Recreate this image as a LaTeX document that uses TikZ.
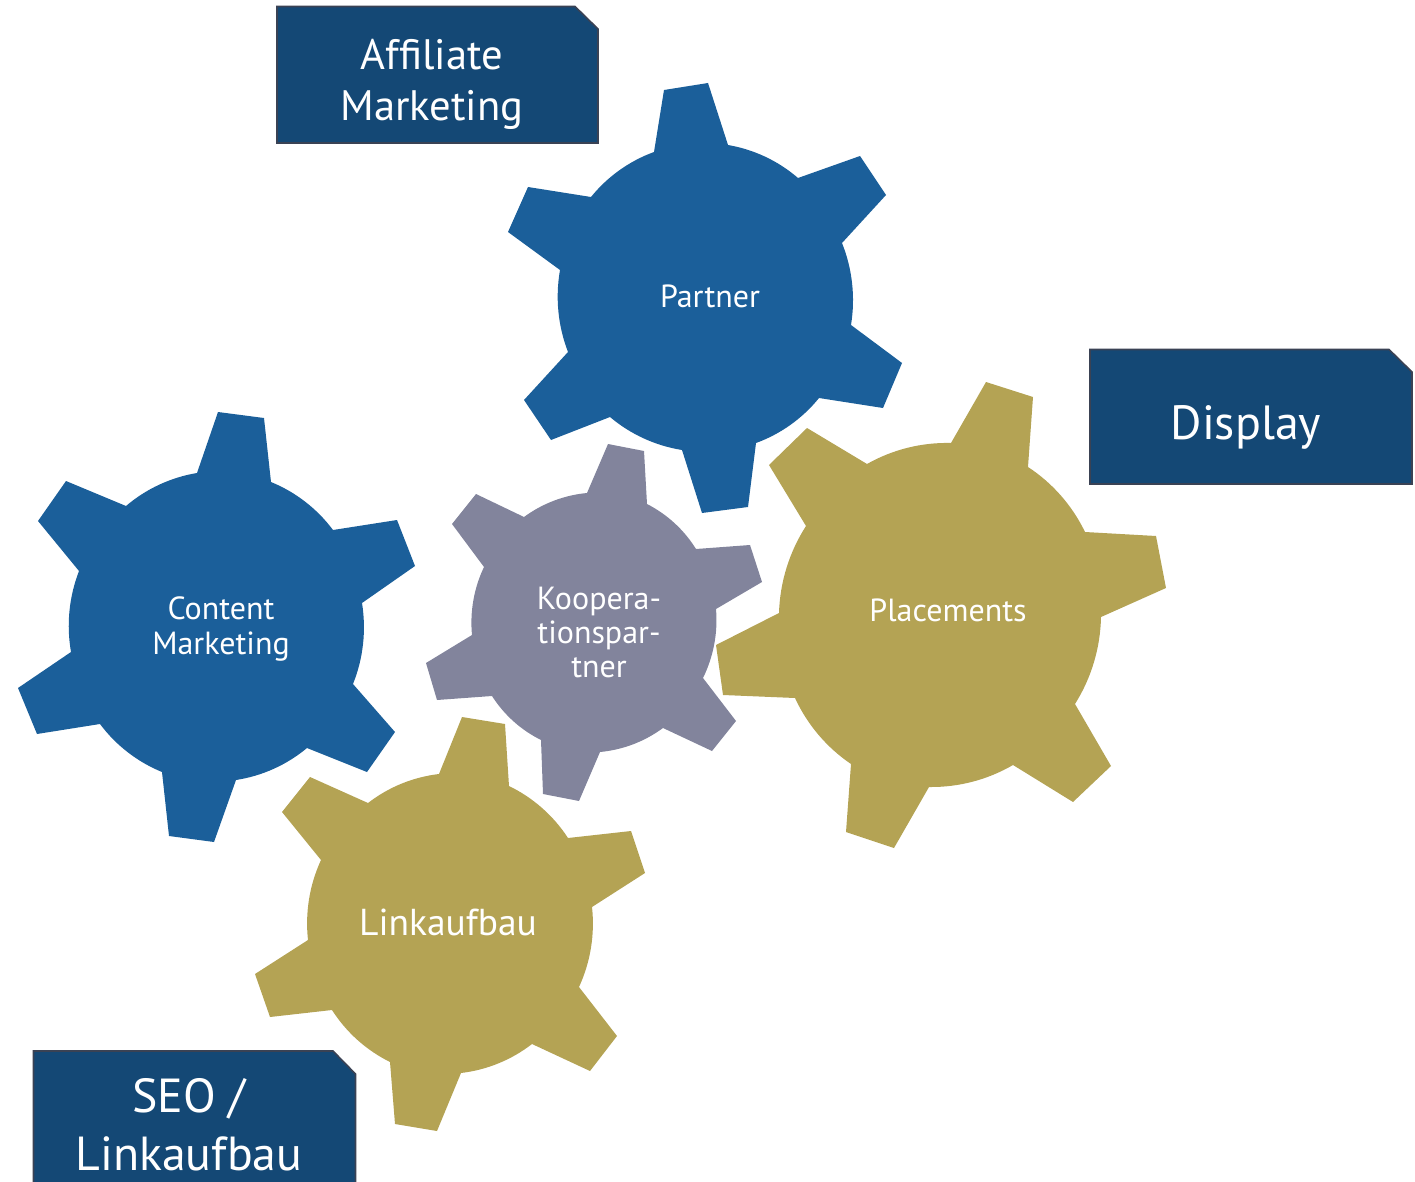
\documentclass[tikz,border=0pt]{standalone}
\usepackage{fontspec}
\setmainfont{PT Sans}
\definecolor{gearblue}{HTML}{1B5F9A}
\definecolor{geargold}{HTML}{B4A354}
\definecolor{gearslate}{HTML}{82849C}
\definecolor{boxblue}{HTML}{144875}
\definecolor{boxline}{HTML}{3A4254}
\tikzset{
  gearlabel/.style={text=white,align=center,inner sep=0pt},
  boxshape/.style={fill=boxblue,draw=boxline,line width=1.6pt,line join=miter},
  valley/.style={bend left=15.5,looseness=0.87},
}
\begin{document}
\begin{tikzpicture}[x=1pt,y=-1pt]
\useasboundingbox (0,0) rectangle (1415,1182);
\clip (0,0) rectangle (1415,1182);

% Partner gear
\fill[gearblue] (654,152) -- (664,90) -- (708,83) -- (728,145) to[valley]
  (798,178) -- (860,156) -- (886,195) -- (842,243) to[valley]
  (851,325) -- (902,363) -- (883,408) -- (819,398) to[valley]
  (756,443) -- (748,507) -- (702,513) -- (682,450) to[valley]
  (610,417) -- (551,440) -- (524,400) -- (568,352) to[valley]
  (560,270) -- (508,232) -- (528,187) -- (591,197) to[valley] (654,152) -- cycle;
% Content Marketing gear
\fill[gearblue] (197,473) -- (218,412) -- (264,418) -- (271,482) to[valley]
  (333,530) -- (397,520) -- (415,566) -- (362,603) to[valley]
  (353,684) -- (395,732) -- (367,772) -- (307,748) to[valley]
  (236,780) -- (214,842) -- (169,836) -- (162,772) to[valley]
  (100,724) -- (37,734) -- (18,688) -- (71,652) to[valley]
  (79,571) -- (38,521) -- (66,481) -- (126,506) to[valley] (197,473) -- cycle;
% Placements gear
\fill[geargold] (951,443) -- (986,382) -- (1033,397) -- (1028,467) to[valley]
  (1085,532) -- (1156,536) -- (1166,588) -- (1101,617) to[valley]
  (1075,704) -- (1111,766) -- (1073,802) -- (1013,765) to[valley]
  (929,787) -- (894,848) -- (846,832) -- (851,764) to[valley]
  (795,698) -- (723,695) -- (716,645) -- (779,613) to[valley]
  (806,526) -- (769,465) -- (807,428) -- (867,464) to[valley] (951,443) -- cycle;
% Linkaufbau gear
\fill[geargold] (439,774) -- (462,717) -- (505,724) -- (509,786) to[valley]
  (568,838) -- (631,831) -- (645,873) -- (592,907) to[valley]
  (579,987) -- (617,1036) -- (590,1071) -- (532,1044) to[valley]
  (461,1073) -- (437,1131) -- (395,1124) -- (390,1062) to[valley]
  (332,1010) -- (270,1017) -- (255,974) -- (308,940) to[valley]
  (321,860) -- (282,812) -- (310,777) -- (368,803) to[valley] (439,774) -- cycle;
% Kooperationspartner gear
\fill[gearslate] (587,493) -- (608,444) -- (644,451) -- (647,504) to[valley]
  (696,549) -- (750,545) -- (762,582) -- (716,609) to[valley]
  (703,678) -- (736,721) -- (712,751) -- (663,728) to[valley]
  (600,752) -- (579,801) -- (543,794) -- (541,740) to[valley]
  (492,696) -- (437,700) -- (426,663) -- (472,635) to[valley]
  (484,567) -- (452,524) -- (476,494) -- (524,517) to[valley] (587,493) -- cycle;

\draw[boxshape] (277,6.5) -- (575,6.5) -- (598,29) -- (598,143) -- (277,143) -- cycle;
\draw[boxshape] (1090,349.5) -- (1389,349.5) -- (1412,372) -- (1412,484) -- (1090,484) -- cycle;
\draw[boxshape] (33.5,1200) -- (33.5,1051) -- (333,1051) -- (355.5,1074) -- (355.5,1200);

\node[gearlabel,font=\fontsize{32}{34}\selectfont] (partner) at (710,296) {Partner};
\node[gearlabel,font=\fontsize{32}{35}\selectfont] (content) at (221,629) {Content\\Marketing};
\node[gearlabel,font=\fontsize{32}{34}\selectfont] (placements) at (948,610) {Placements};
\node[gearlabel,font=\fontsize{32}{34}\selectfont] (koop) at (599,632) {Koopera-\\tionspar-\\tner};
\node[gearlabel,font=\fontsize{37.5}{40}\selectfont] (link) at (448,922.5) {Linkaufbau};
\node[gearlabel,font=\fontsize{42.6}{51}\selectfont] (affiliate) at (432,84.5) {Affiliate\\Marketing};
\node[gearlabel,font=\fontsize{48}{52}\selectfont] (display) at (1246,427) {Display};
\node[gearlabel,font=\fontsize{47.8}{58}\selectfont] (seo) at (189,1125) {SEO /\\Linkaufbau};
\end{tikzpicture}
\end{document}
